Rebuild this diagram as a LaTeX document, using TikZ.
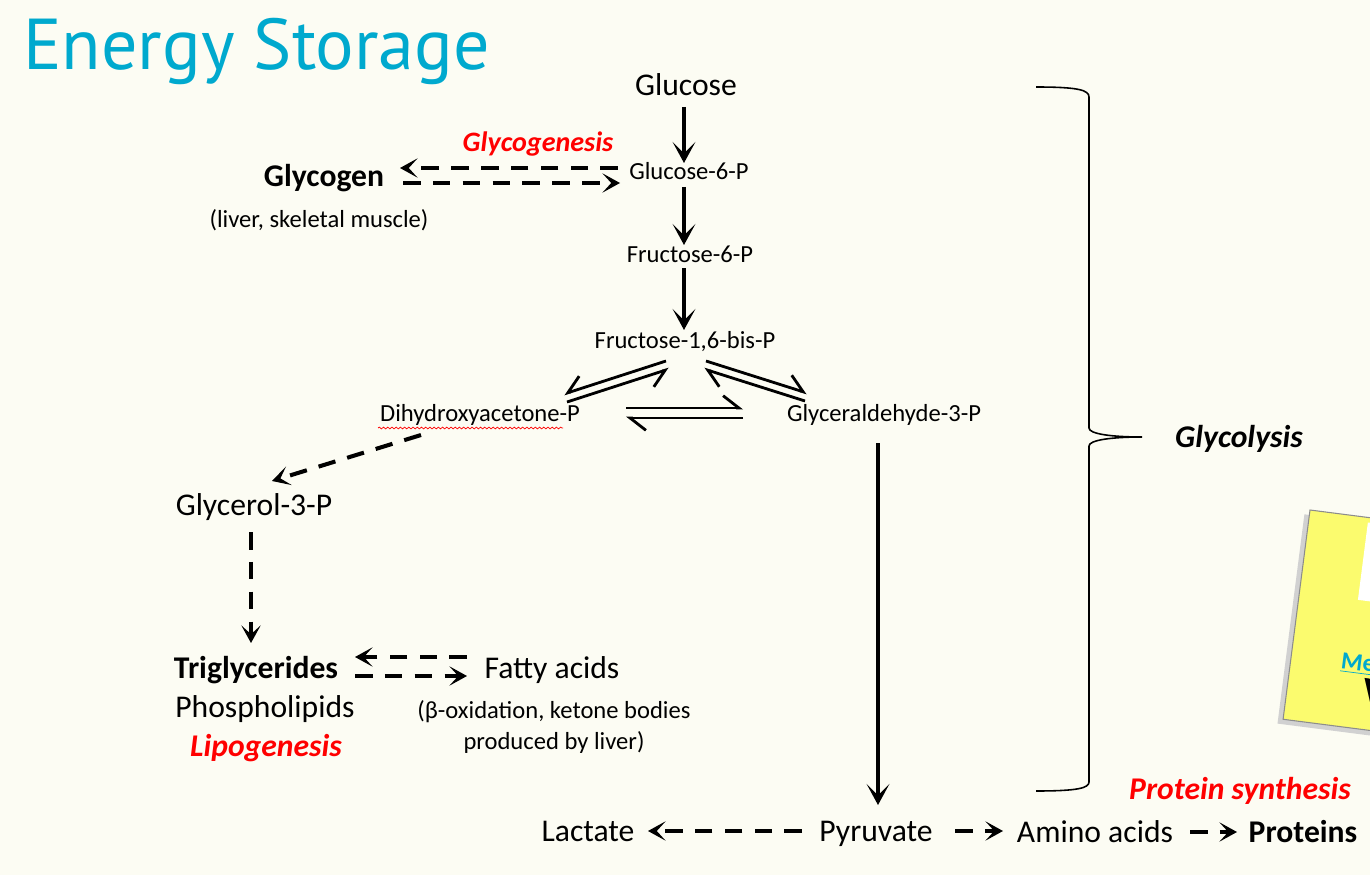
\documentclass[tikz,border=0pt]{standalone}
\usepackage{fontspec}
\setmainfont{Carlito}
\newfontfamily\titlefont{PT Sans}
\usetikzlibrary{arrows.meta,calc,decorations.pathmorphing}

\definecolor{slidebg}{RGB}{252,252,243}
\definecolor{titleblue}{RGB}{0,169,206}
\definecolor{notered}{RGB}{255,0,0}
\definecolor{noteyellow}{RGB}{251,251,110}

\begin{document}
\begin{tikzpicture}[
  x=0.02cm, y=-0.02cm,
  bigtxt/.style={anchor=base, inner sep=0pt, font=\fontsize{18}{22}\selectfont},
  boldtxt/.style={bigtxt, font=\fontsize{18}{22}\selectfont\bfseries},
  smalltxt/.style={anchor=base, inner sep=0pt, font=\fontsize{14}{17.6}\selectfont},
  redtxt/.style={bigtxt, text=notered, font=\fontsize{18}{22}\selectfont\bfseries\itshape},
  mainarr/.style={line width=1.9pt, -{Stealth[length=12pt,width=13pt,inset=6.5pt]}},
  sidearr/.style={line width=2.3pt, dash pattern=on 10pt off 7pt, -{Stealth[length=10pt,width=11pt,inset=5pt]}},
  eqleft/.style={line width=1.6pt, -{Straight Barb[left,length=9pt,width=14pt]}},
  eqright/.style={line width=1.6pt, -{Straight Barb[right,length=9pt,width=14pt]}}
]
\fill[slidebg] (0,0) rectangle (1370,875);
\useasboundingbox (0,0) rectangle (1370,875);

% title
\node[anchor=base west, inner sep=0pt, text=titleblue, font=\titlefont\fontsize{41}{49}\selectfont] (title) at (23,70) {Energy Storage};

% glycolysis chain
\node[bigtxt] (glc) at (686,96) {Glucose};
\node[smalltxt] (g6p) at (689,179) {Glucose-6-P};
\node[smalltxt] (f6p) at (690,262) {Fructose-6-P};
\node[smalltxt] (f16) at (685,348) {Fructose-1,6-bis-P};
\node[smalltxt] (dhap) at (480,421) {Dihydroxyacetone-P};
\node[smalltxt] (gap) at (884,421) {Glyceraldehyde-3-P};
\node[bigtxt] (pyr) at (876,841) {Pyruvate};
\node[bigtxt] (lac) at (588,841) {Lactate};
\node[bigtxt] (aa) at (1095,842) {Amino acids};
\node[boldtxt] (prot) at (1303,842) {Proteins};

% storage side
\node[boldtxt] (glycogen) at (324,187) {Glycogen};
\node[smalltxt] (store) at (319,227) {(liver, skeletal muscle)};
\node[redtxt, font=\fontsize{16}{19}\selectfont\bfseries\itshape] (glygen) at (538,152) {Glycogenesis};
\node[bigtxt] (gly3p) at (254,515) {Glycerol-3-P};
\node[boldtxt] (tg) at (256,678) {Triglycerides};
\node[bigtxt] (pl) at (265,717) {Phospholipids};
\node[redtxt] (lipo) at (266,756) {Lipogenesis};
\node[bigtxt] (fa) at (552,678) {Fatty acids};
\node[smalltxt, align=center, anchor=north] (betaox) at (554,700) {(β-oxidation, ketone bodies\\produced by liver)};

% side labels
\node[boldtxt, font=\fontsize{18}{22}\selectfont\bfseries\itshape] (glycolysis) at (1239,447) {Glycolysis};
\node[redtxt] (protsyn) at (1240,799) {Protein synthesis};

% spell-check squiggle
\draw[notered, line width=0.4pt, decorate, decoration={snake, amplitude=0.5pt, segment length=2.4pt}]
  ($(dhap.base)+(-102,7)$) -- ($(dhap.base)+(83,7)$);

% main pathway
\draw[mainarr] ($(glc.base)+(-2,11)$) -- ($(g6p.base)+(-5,-16)$);
\draw[mainarr] ($(g6p.base)+(-5,8)$) -- ($(f6p.base)+(-6,-17)$);
\draw[mainarr] ($(f6p.base)+(-6,6)$) -- ($(f16.base)+(-1,-18)$);
\draw[mainarr] ($(gap.base)+(-6,22)$) -- ($(pyr.base)+(2,-36)$);

% equilibria
\draw[eqright] ($(f16.base)+(-19,13)$) -- ($(dhap.base)+(84,-27)$);
\draw[eqright] ($(dhap.base)+(87,-19)$) -- ($(f16.base)+(-16,21)$);
\draw[eqleft] ($(f16.base)+(21,13)$) -- ($(gap.base)+(-77,-28)$);
\draw[eqleft] ($(gap.base)+(-79,-20)$) -- ($(f16.base)+(19,21)$);
\draw[eqleft] ($(dhap.base)+(146,-13)$) -- ($(gap.base)+(-141,-13)$);
\draw[eqleft] ($(gap.base)+(-141,-3)$) -- ($(dhap.base)+(146,-3)$);

% storage arrows
\draw[sidearr] ($(g6p.base)+(-71,-11)$) -- ($(glycogen.base)+(76,-19)$);
\draw[sidearr] ($(glycogen.base)+(79,-4)$) -- ($(g6p.base)+(-69,4)$);
\draw[sidearr] ($(dhap.base)+(-59,14)$) -- ($(gly3p.base)+(18,-34)$);
\draw[sidearr] ($(gly3p.base)+(-3,17)$) -- ($(tg.base)+(-5,-35)$);
\draw[sidearr] ($(fa.base)+(-85,-21)$) -- ($(tg.base)+(99,-21)$);
\draw[sidearr] ($(tg.base)+(99,-2)$) -- ($(fa.base)+(-85,-2)$);
\draw[sidearr] ($(pyr.base)+(-74,-10)$) -- ($(lac.base)+(60,-10)$);
\draw[sidearr] ($(pyr.base)+(79,-10)$) -- ($(aa.base)+(-92,-11)$);
\draw[sidearr] ($(aa.base)+(95,-10)$) -- ($(prot.base)+(-66,-10)$);

% brace
\draw[line width=0.9pt] (1036,87) .. controls (1078,87) and (1089,90) .. (1089,97)
  -- (1089,428) .. controls (1089,434) and (1112,437) .. (1142,437)
  .. controls (1112,437) and (1089,440) .. (1089,446)
  -- (1089,782) .. controls (1089,788) and (1078,791) .. (1036,791);

% sticky note at the edge
\begin{scope}
\clip (0,0) rectangle (1370,875);
\begin{scope}[shift={(1310,510)}, rotate=-7.33]
  \fill[black!18] (-5,5) rectangle (305,216);
  \filldraw[fill=noteyellow, draw=black!45, line width=0.6pt] (0,0) rectangle (300,211);
  \fill[white] (59,5) rectangle (300,83);
  \node[anchor=base west, inner sep=0pt, rotate=-7.33, text=titleblue, font=\fontsize{14}{17}\selectfont\bfseries] (notelink) at (50,153) {\underline{Me}};
  \node[anchor=base west, inner sep=0pt, rotate=-7.33, font=\fontsize{24}{28}\selectfont\bfseries] (noteword) at (76,187) {V};
\end{scope}
\end{scope}
\end{tikzpicture}
\end{document}
